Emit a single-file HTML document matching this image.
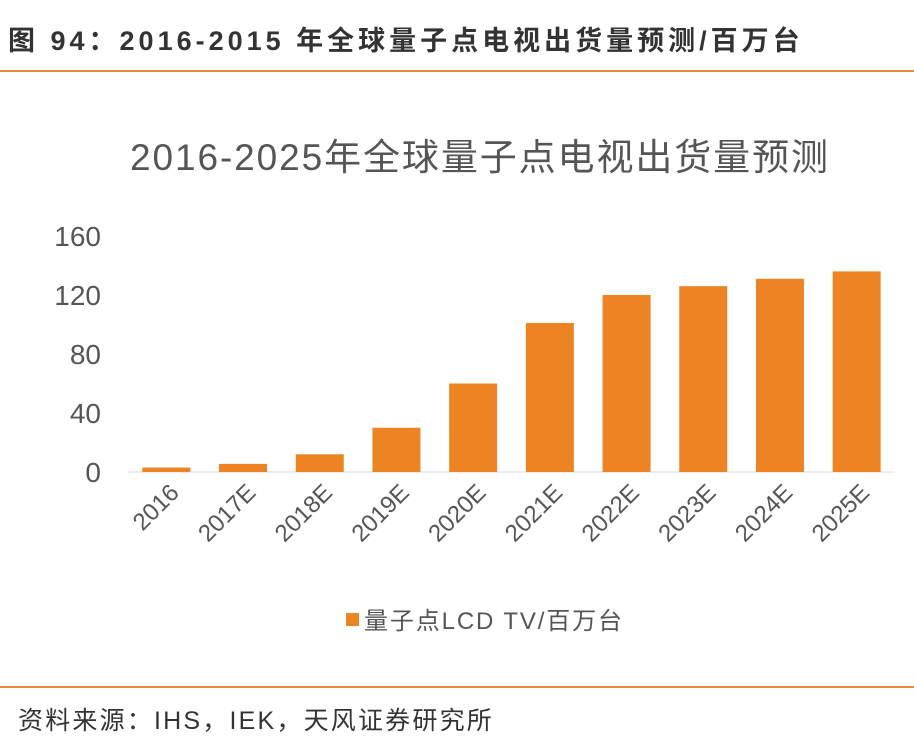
<!DOCTYPE html>
<html><head><meta charset="utf-8"><style>
body{margin:0;width:914px;height:748px;background:#fff;font-family:"Liberation Sans","Noto Sans CJK SC",sans-serif;overflow:hidden;position:relative}
.hdr{position:absolute;left:8px;top:19px;font-size:27px;font-weight:bold;color:#333;letter-spacing:4px;white-space:nowrap}
.line{position:absolute;left:0;width:914px;height:2px;background:#e8883a}
.src{position:absolute;left:18px;top:701px;font-size:25px;color:#333;letter-spacing:2.2px;white-space:nowrap}
</style></head><body>
<div class="hdr">图 94：2016-2015 年全球量子点电视出货量预测/百万台</div>
<div class="line" style="top:70px"></div>
<svg id="chart" width="914" height="748" style="position:absolute;left:0;top:0">
<text x="479" y="170" text-anchor="middle" font-size="37" fill="#555" font-family="Liberation Sans,Noto Sans CJK SC,sans-serif" textLength="698">2016-2025年全球量子点电视出货量预测</text>
<g id="axes"></g><g id="bars"></g>
<rect x="346" y="613" width="13" height="13" fill="#ed8424"/>
<text x="364" y="629" font-size="24" fill="#555" font-family="Liberation Sans,Noto Sans CJK SC,sans-serif" textLength="258">量子点LCD TV/百万台</text>
</svg>
<div class="line" style="top:686px"></div>
<div class="src">资料来源：IHS，IEK，天风证券研究所</div>
<script>
const categories=["2016","2017E","2018E","2019E","2020E","2021E","2022E","2023E","2024E","2025E"];
const values=[3,5.5,12,30,60,101,120,126,131,136];
const yTicks=[0,40,80,120,160];
const ns="http://www.w3.org/2000/svg";
const x0=128,x1=895,y0=472,yTop=236,maxV=160;
const band=(x1-x0)/categories.length,bw=48;
const y=v=>y0-(v/maxV)*(y0-yTop);
const xc=i=>x0+band*(i+0.5);
const ax=document.getElementById('axes'),bg=document.getElementById('bars');
function mk(t,a,p){const e=document.createElementNS(ns,t);for(const k in a)e.setAttribute(k,a[k]);p.appendChild(e);return e;}
yTicks.forEach(t=>{const e=mk('text',{x:101,y:y(t)+10,'text-anchor':'end','font-size':28,fill:'#555','font-family':'Liberation Sans,sans-serif'},ax);e.textContent=t;

});
const base=mk('line',{x1:x0,x2:x1,y1:y0,y2:y0,stroke:'#d9d9d9','stroke-width':1},ax);


categories.forEach((c,i)=>{
const r=mk('rect',{x:xc(i)-bw/2,y:y(values[i]),width:bw,height:y0-y(values[i]),fill:'#ed8424'},bg);


const cx=xc(i)+14,cy=494;
const t=mk('text',{x:cx,y:cy,'text-anchor':'end','font-size':24,fill:'#555','font-family':'Liberation Sans,sans-serif',transform:`rotate(-45 ${cx} ${cy})`},ax);
t.textContent=c;


});
</script>
</body></html>
